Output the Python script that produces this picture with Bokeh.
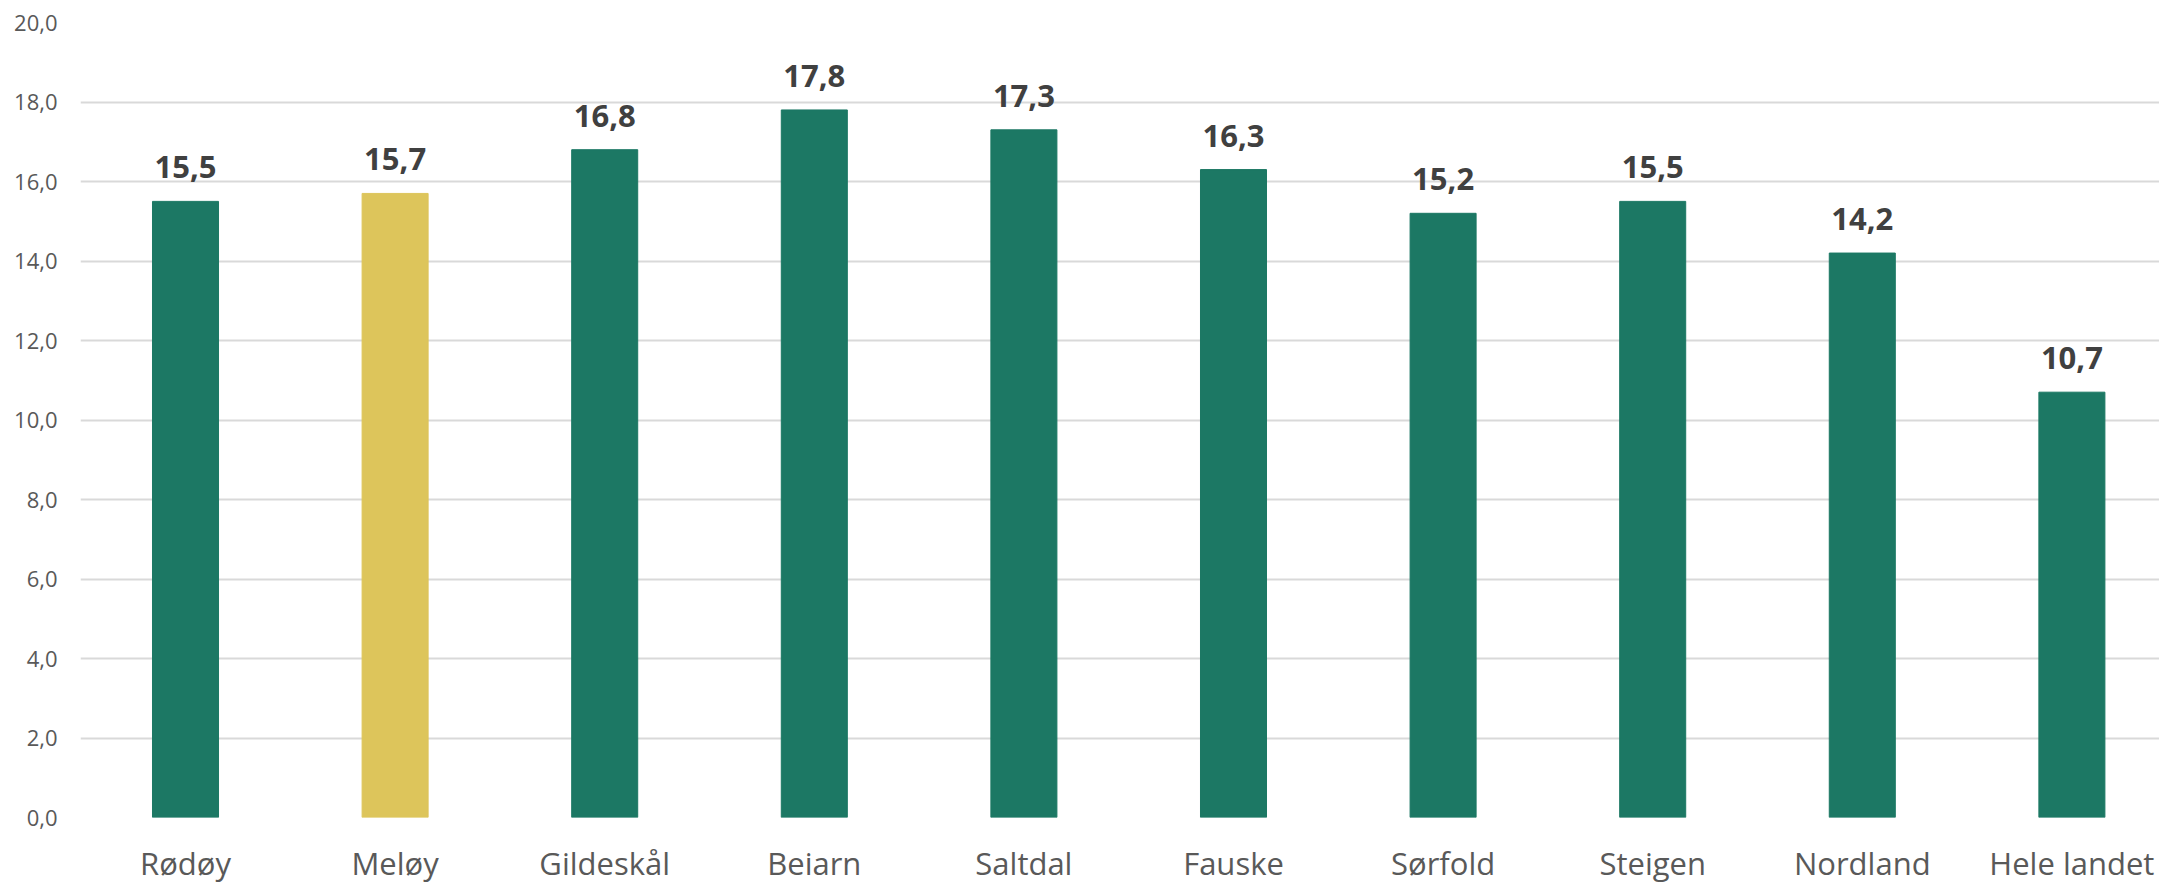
from bokeh.plotting import figure
from bokeh.models import FixedTicker, ColumnDataSource, Range1d
from bokeh.core.properties import value
from bokeh.embed import file_html
from bokeh.resources import INLINE

categories = ["Rødøy", "Meløy", "Gildeskål", "Beiarn", "Saltdal", "Fauske",
              "Sørfold", "Steigen", "Nordland", "Hele landet"]
values = [15.5, 15.7, 16.8, 17.8, 17.3, 16.3, 15.2, 15.5, 14.2, 10.7]
bar_colors = ["#1C7864", "#DDC55B", "#1C7864", "#1C7864", "#1C7864", "#1C7864",
              "#1C7864", "#1C7864", "#1C7864", "#1C7864"]
y_ticks = [0, 2, 4, 6, 8, 10, 12, 14, 16, 18, 20]
y_tick_labels = ["0,0", "2,0", "4,0", "6,0", "8,0", "10,0", "12,0", "14,0",
                 "16,0", "18,0", "20,0"]

xs = list(range(len(categories)))
labels = [f"{v:.1f}".replace(".", ",") for v in values]
src = ColumnDataSource(dict(x=xs, top=values, color=bar_colors, label=labels))

p = figure(width=2159, height=886, output_backend="svg", toolbar_location=None,
           x_range=Range1d(-0.501, 9.418), y_range=Range1d(0, 20),
           min_border_left=80, min_border_top=22, min_border_bottom=0,
           min_border_right=0)
p.outline_line_color = None
p.background_fill_color = "white"
p.border_fill_color = "white"

p.vbar(x="x", top="top", width=0.315, color="color", source=src)
p.text(x="x", y="top", text="label", source=src, text_align="center",
       text_baseline="alphabetic", y_offset=-34, text_font=value("Open Sans"),
       text_font_style="bold", text_font_size="31px", text_color="#404040")

# y axis
p.yaxis.ticker = FixedTicker(ticks=y_ticks)
p.yaxis.major_label_overrides = {t: l for t, l in zip(y_ticks, y_tick_labels)}
p.yaxis.axis_line_color = None
p.yaxis.major_tick_line_color = None
p.yaxis.minor_tick_line_color = None
p.yaxis.major_tick_out = 0
p.yaxis.major_label_standoff = 23
p.yaxis.major_label_text_font = "Open Sans"
p.yaxis.major_label_text_font_size = "22px"
p.yaxis.major_label_text_color = "#595959"

# x axis
p.xaxis.ticker = FixedTicker(ticks=xs)
p.xaxis.major_label_overrides = {i: c for i, c in zip(xs, categories)}
p.xaxis.axis_line_color = None
p.xaxis.major_tick_line_color = None
p.xaxis.minor_tick_line_color = None
p.xaxis.major_tick_out = 0
p.xaxis.major_label_standoff = 24
p.xaxis.major_label_text_font = "Open Sans"
p.xaxis.major_label_text_font_size = "31px"
p.xaxis.major_label_text_color = "#595959"

p.xgrid.grid_line_color = None
p.ygrid.ticker = FixedTicker(ticks=y_ticks)
p.ygrid.grid_line_color = "#D9D9D9"
p.ygrid.grid_line_width = 2

open("out.html", "w").write(file_html(p, INLINE))
